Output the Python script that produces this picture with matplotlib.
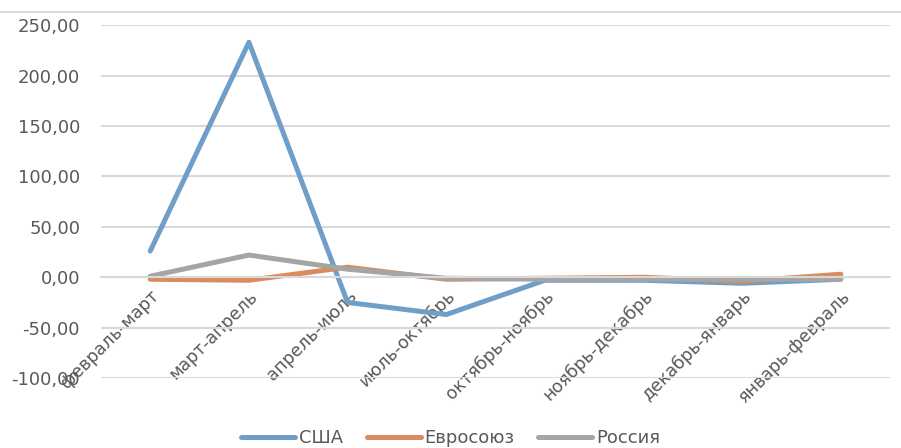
import matplotlib.pyplot as plt
from matplotlib.lines import Line2D
from matplotlib.ticker import FuncFormatter

periods = ['февраль-март', 'март-апрель', 'апрель-июль', 'июль-октябрь',
           'октябрь-ноябрь', 'ноябрь-декабрь', 'декабрь-январь', 'январь-февраль']
usa = [26, 233, -25, -37, -3, -3, -6, -2]
eu = [-2, -3, 10, -2, -1, 0, -4, 3]
russia = [1, 22, 8, -1, -2, -2, -2, -2]

plt.rcParams['font.family'] = ['DejaVu Sans']
grey_txt = '#595959'

fig = plt.figure(figsize=(9.01, 4.48), dpi=100)
ax = fig.add_axes([0.112, 0.156, 0.876, 0.788])

x = list(range(len(periods)))
ax.plot(x, usa, color='#6f9fc8', lw=3.6, solid_capstyle='round', solid_joinstyle='round', label='США')
ax.plot(x, eu, color='#d98c5f', lw=3.6, solid_capstyle='round', solid_joinstyle='round', label='Евросоюз')
ax.plot(x, russia, color='#a5a5a5', lw=3.6, solid_capstyle='round', solid_joinstyle='round', label='Россия')

ax.set_xlim(-0.5, len(periods) - 0.5)
ax.set_ylim(-100, 250)
ax.set_yticks(range(-100, 251, 50))
ax.yaxis.set_major_formatter(FuncFormatter(lambda v, p: ('%.2f' % v).replace('.', ',')))
ax.grid(axis='y', color='#d9d9d9', lw=1.5)
ax.set_axisbelow(True)

for s in ['top', 'right', 'left']:
    ax.spines[s].set_visible(False)
ax.spines['bottom'].set_position(('data', 0))
ax.spines['bottom'].set_color('#d9d9d9')
ax.spines['bottom'].set_linewidth(1.5)

ax.set_xticks(x)
ax.set_xticklabels(periods, rotation=45, ha='right', va='top', rotation_mode='anchor')
ax.tick_params(axis='x', length=0, pad=7, labelsize=12.5, labelcolor=grey_txt)
ax.tick_params(axis='y', length=0, pad=15, labelsize=13, labelcolor=grey_txt)
for lbl in ax.get_xticklabels():
    lbl.set_zorder(5)

fig.add_artist(Line2D([0, 1], [0.973, 0.973], color='#d9d9d9', lw=1.5, transform=fig.transFigure))

fig.legend(loc='center', bbox_to_anchor=(0.5, 0.022), ncol=3, frameon=False,
           fontsize=13, labelcolor=grey_txt, handlelength=3.0, handletextpad=0.2,
           columnspacing=1.3)

fig.savefig('out.png', dpi=100)
